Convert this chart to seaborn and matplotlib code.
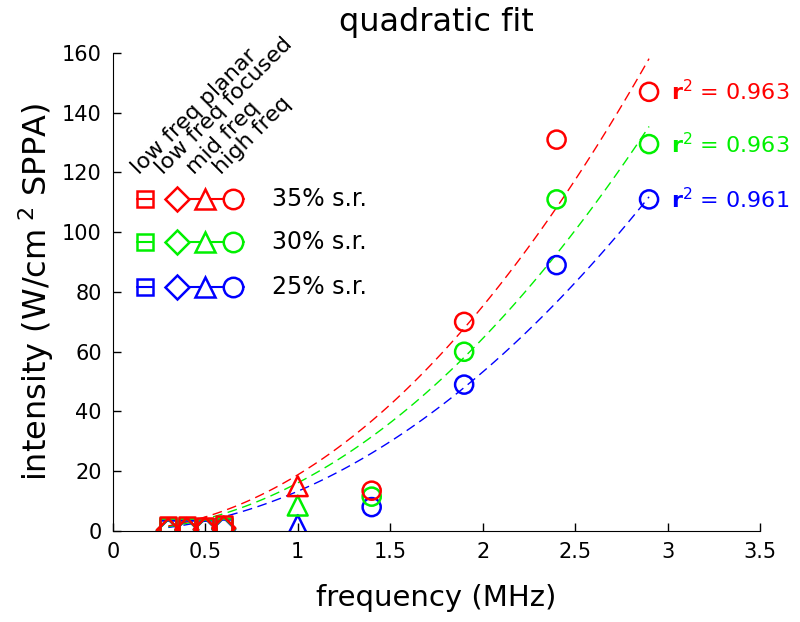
import numpy as np
import matplotlib
matplotlib.use("Agg")
import matplotlib.pyplot as plt
import seaborn as sns

# data
freq_low = [0.3, 0.4, 0.5, 0.6]          # low freq planar / focused
freq_mid = [1.0]                          # mid freq
freq_high = [1.4, 1.9, 2.4, 2.9]          # high freq

series = ["35% s.r.", "30% s.r.", "25% s.r."]
colors = ["#ff0000", "#00f000", "#0000ff"]

planar = {"35% s.r.": [2.0, 2.0, 1.8, 2.2],
          "30% s.r.": [1.5, 1.5, 1.4, 1.8],
          "25% s.r.": [1.0, 1.0, 1.0, 1.3]}
focused = {"35% s.r.": [0.3, 0.5, 0.6, 1.0],
           "30% s.r.": [0.2, 0.4, 0.5, 0.8],
           "25% s.r.": [0.1, 0.3, 0.4, 0.6]}
mid = {"35% s.r.": [15.0], "30% s.r.": [8.5], "25% s.r.": [2.0]}
high = {"35% s.r.": [13.5, 70.0, 131.0, 147.0],
        "30% s.r.": [11.5, 60.0, 111.0, 129.5],
        "25% s.r.": [8.0, 49.0, 89.0, 111.0]}

# quadratic fit coefficients (y = a*f^2) and r^2
fit_a = {"35% s.r.": 18.8, "30% s.r.": 16.1, "25% s.r.": 13.3}
r2 = {"35% s.r.": "0.963", "30% s.r.": "0.963", "25% s.r.": "0.961"}
fit_range = (0.3, 2.9)

group_labels = ["low freq planar", "low freq focused", "mid freq", "high freq"]

sns.set_style("ticks")
plt.rcParams["font.family"] = ["DejaVu Sans"]
for k in ["text.color", "axes.labelcolor", "xtick.color", "ytick.color", "axes.edgecolor"]:
    plt.rcParams[k] = "black"

fig = plt.figure(figsize=(8, 6.22), dpi=100)
ax = fig.add_axes([0.141, 0.1463, 0.809, 0.7685])

ms = 170
lw = 1.8
for name, c in reversed(list(zip(series, colors))):
    xf = np.linspace(fit_range[0], fit_range[1], 100)
    sns.lineplot(x=xf, y=fit_a[name] * xf ** 2, color=c, lw=1.0,
                 ax=ax, zorder=2).lines[-1].set_dashes((7, 4))
    sns.scatterplot(x=freq_low, y=planar[name], marker="s", s=ms * 0.8,
                    facecolor="none", edgecolor=c, linewidth=lw, ax=ax, zorder=3)
    sns.scatterplot(x=freq_low, y=focused[name], marker="D", s=ms * 0.8,
                    facecolor="none", edgecolor=c, linewidth=lw, ax=ax, zorder=3)
    sns.scatterplot(x=freq_mid, y=mid[name], marker="^", s=ms * 1.2,
                    facecolor="none", edgecolor=c, linewidth=lw, ax=ax, zorder=3)
    sns.scatterplot(x=freq_high, y=high[name], marker="o", s=ms,
                    facecolor="none", edgecolor=c, linewidth=lw, ax=ax, zorder=3)
    ax.text(3.02, high[name][-1], r"$\mathbf{r}^2$ = " + r2[name], color=c,
            fontsize=16, va="center", ha="left")

ax.set_xlim(0, 3.5)
ax.set_ylim(0, 160)
ax.set_xticks(np.arange(0, 3.51, 0.5))
ax.set_xticklabels(["0", "0.5", "1", "1.5", "2", "2.5", "3", "3.5"])
ax.set_yticks(np.arange(0, 161, 20))
ax.tick_params(labelsize=15, length=6, width=1, direction="in", pad=8)
ax.set_xlabel("frequency (MHz)", fontsize=21, labelpad=16)
ax.set_ylabel(r"intensity (W/cm$^{\ 2}$ SPPA)", fontsize=23, labelpad=4)
ax.set_title("quadratic fit", fontsize=23, pad=16)
sns.despine(ax=ax)

# hand-made legend in the upper left
row_y = [0.695, 0.605, 0.51]
mk_x = [0.0495, 0.099, 0.1425, 0.1855]
for name, c, yy in zip(series, colors, row_y):
    ax.plot([0.038, 0.061], [yy, yy], color=c, lw=1.5, transform=ax.transAxes, clip_on=False)
    ax.plot([mk_x[0]], [yy], marker="s", ms=11, mfc="none", mec=c, mew=lw,
            transform=ax.transAxes, clip_on=False)
    ax.plot([0.083, 0.202], [yy, yy], color=c, lw=1.5, transform=ax.transAxes, clip_on=False)
    for m, xx, size in zip(["D", "^", "o"], mk_x[1:], [12, 14, 14]):
        ax.plot([xx], [yy], marker=m, ms=size, mfc="white", mec=c, mew=lw,
                transform=ax.transAxes, clip_on=False)
    ax.text(0.246, yy, name, fontsize=17, va="center", ha="left", transform=ax.transAxes)

lab_x = [0.04, 0.078, 0.125, 0.168]
for lab, xx in zip(group_labels, lab_x):
    ax.text(xx, 0.745, lab, fontsize=16, rotation=45, rotation_mode="anchor",
            ha="left", va="baseline", transform=ax.transAxes)

fig.savefig("out.png", dpi=100)
